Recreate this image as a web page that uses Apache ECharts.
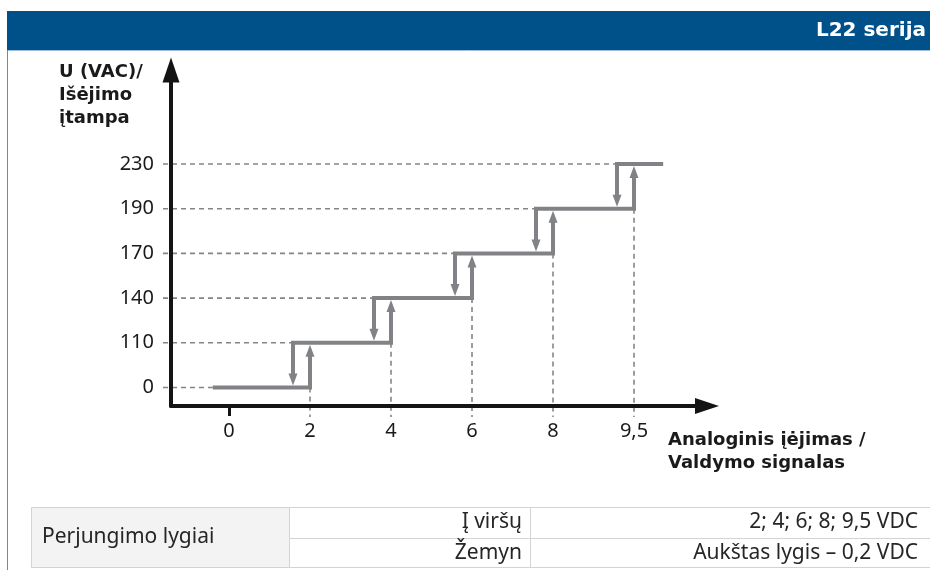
<!DOCTYPE html>
<html>
<head>
<meta charset="utf-8">
<script src="https://cdn.jsdelivr.net/npm/echarts@6/dist/echarts.min.js"></script>
<style>
  html, body { margin: 0; padding: 0; background: #fff; }
  #chart { width: 930px; height: 570px; }
</style>
</head>
<body>
<div id="chart"></div>
<script>
// ---- data ----
const headerTitle = 'L22 serija';
const yAxisTitle = ['U (VAC)/', 'Išėjimo', 'įtampa'];
const xAxisTitle = ['Analoginis įėjimas /', 'Valdymo signalas'];
// tick labels (schematic axes: equally spaced steps)
const xLabels = ['0', '2', '4', '6', '8', '9,5'];          // control signal, VDC
const yLabels = ['0', '110', '140', '170', '190', '230'];   // output voltage, VAC
// switching-up points (as x tick labels)
const switchUp = ['2', '4', '6', '8', '9,5'];
// switching-down offset (0.2 VDC) in tick-step units, and line ends
const downOffset = 0.21;
const lineStart = -0.2;
const lineEnd = 5.36;
// table
const tableHead = 'Perjungimo lygiai';
const tableRowLabels = ['Į viršų', 'Žemyn'];
const tableRowValues = ['2; 4; 6; 8; 9,5 VDC', 'Aukštas lygis – 0,2 VDC'];

// ---- derived step segments: [x0, x1, level] ----
const upPos = switchUp.map(s => xLabels.indexOf(s));
const topLevel = yLabels.length - 1;
const segments = yLabels.map((_, i) => [
  i === 0 ? lineStart : upPos[i - 1] - downOffset,
  i === topLevel ? lineEnd : upPos[i],
  i
]);

// ---- layout / style ----
const grid = { left: 171, right: 223, top: 70, bottom: 164 };
const stepColor = '#808285';
const dashColor = '#858585';
const axisColor = '#141414';
const labelFont = 'Noto Sans';

const chart = echarts.init(document.getElementById('chart'), null, { renderer: 'canvas' });

function renderStep(params, api) {
  const x0 = api.value(0), x1 = api.value(1), lv = api.value(2);
  const pS = api.coord([x0, lv]);
  const pE = api.coord([x1, lv]);
  const axisY = api.coord([0, -0.414])[1];
  const half = 2, aL = 12, aW = 9;
  const children = [];
  const dashStyle = { stroke: dashColor, lineWidth: 1.6, lineDash: [5, 4], fill: null };
  children.push({ type: 'line', shape: { x1: grid.left - 8, y1: pS[1], x2: pS[0], y2: pS[1] }, style: dashStyle, z2: 0 });
  if (lv < topLevel) {
    children.push({ type: 'line', shape: { x1: pE[0], y1: pE[1], x2: pE[0], y2: axisY + 11 }, style: dashStyle, z2: 0 });
  }
  const pts = [];
  if (lv > 0) {
    const tipY = api.coord([x0, lv - 1])[1] - half;
    pts.push([pS[0], tipY - aL + 1]);
    children.push({ type: 'polygon', shape: { points: [[pS[0], tipY], [pS[0] - aW / 2, tipY - aL], [pS[0] + aW / 2, tipY - aL]] }, style: { fill: stepColor }, z2: 3 });
  }
  pts.push(pS, pE);
  if (lv < topLevel) {
    const tipY = api.coord([x1, lv + 1])[1] + half;
    pts.push([pE[0], tipY + aL - 1]);
    children.push({ type: 'polygon', shape: { points: [[pE[0], tipY], [pE[0] - aW / 2, tipY + aL], [pE[0] + aW / 2, tipY + aL]] }, style: { fill: stepColor }, z2: 3 });
  }
  children.push({ type: 'polyline', shape: { points: pts }, style: { stroke: stepColor, lineWidth: 4, fill: null, lineJoin: 'miter', lineCap: 'butt' }, z2: 2 });
  return { type: 'group', children };
}

// table graphics
const tX0 = 31, tX1 = 289, tX2 = 530, tX3 = 930, tY0 = 507, tY1 = 538, tY2 = 568;
const border = { stroke: '#d3d3d3', lineWidth: 1 };
const tableFont = '21px "Noto Sans"';
const tableGraphics = [
  { type: 'rect', shape: { x: tX0 + 0.5, y: tY0 + 0.5, width: tX1 - tX0, height: tY2 - tY0 - 1 }, style: { fill: '#f3f3f3', ...border } },
  { type: 'rect', shape: { x: tX1 + 0.5, y: tY0 + 0.5, width: tX2 - tX1, height: tY1 - tY0 }, style: { fill: '#fff', ...border } },
  { type: 'rect', shape: { x: tX2 + 0.5, y: tY0 + 0.5, width: tX3 - tX2 + 2, height: tY1 - tY0 }, style: { fill: '#fff', ...border } },
  { type: 'rect', shape: { x: tX1 + 0.5, y: tY1 + 0.5, width: tX2 - tX1, height: tY2 - tY1 - 1 }, style: { fill: '#fff', ...border } },
  { type: 'rect', shape: { x: tX2 + 0.5, y: tY1 + 0.5, width: tX3 - tX2 + 2, height: tY2 - tY1 - 1 }, style: { fill: '#fff', ...border } },
  { type: 'text', x: 42, y: (tY0 + tY2) / 2, style: { text: tableHead, font: tableFont, fill: '#262626', textVerticalAlign: 'middle', textAlign: 'left' } }
];
tableRowLabels.forEach((t, i) => {
  const cy = i === 0 ? (tY0 + tY1) / 2 : (tY1 + tY2) / 2;
  tableGraphics.push({ type: 'text', x: tX2 - 8, y: cy, style: { text: t, font: tableFont, fill: '#262626', textAlign: 'right', textVerticalAlign: 'middle' } });
  tableGraphics.push({ type: 'text', x: tX3 - 12, y: cy, style: { text: tableRowValues[i], font: tableFont, fill: '#262626', textAlign: 'right', textVerticalAlign: 'middle' } });
});

const option = {
  animation: false,
  backgroundColor: '#fff',
  grid: grid,
  xAxis: {
    type: 'value', min: -0.716, max: 5.901, z: 5,
    axisLine: { show: true, onZero: false, symbol: ['none', 'triangle'], symbolSize: [16, 24], lineStyle: { color: axisColor, width: 4 } },
    axisTick: { show: true, customValues: [0], length: 10, lineStyle: { color: axisColor, width: 3 } },
    axisLabel: { customValues: [0, 1, 2, 3, 4, 5], formatter: v => xLabels[Math.round(v)], fontSize: 20, color: '#1a1a1a', fontFamily: labelFont, margin: 15 },
    splitLine: { show: false }
  },
  yAxis: {
    type: 'value', min: -0.414, max: 7.103, z: 5,
    axisLine: { show: true, onZero: false, symbol: ['none', 'triangle'], symbolSize: [17, 25], lineStyle: { color: axisColor, width: 4 } },
    axisTick: { show: false },
    axisLabel: { customValues: [0, 1, 2, 3, 4, 5], formatter: v => yLabels[Math.round(v)], fontSize: 20, color: '#1a1a1a', fontFamily: labelFont, margin: 17 },
    splitLine: { show: false }
  },
  series: [{
    type: 'custom',
    coordinateSystem: 'cartesian2d',
    renderItem: renderStep,
    encode: { x: [0, 1], y: 2 },
    data: segments,
    z: 2,
    silent: true
  }],
  graphic: [
    { type: 'rect', shape: { x: 7, y: 11, width: 923, height: 39 }, style: { fill: '#00508a' } },
    { type: 'line', shape: { x1: 7, y1: 50.5, x2: 930, y2: 50.5 }, style: { stroke: '#9ebfdc', lineWidth: 1 } },
    { type: 'line', shape: { x1: 7.5, y1: 50, x2: 7.5, y2: 570 }, style: { stroke: '#5b8fc0', lineWidth: 1 } },
    { type: 'text', x: 926, y: 31, style: { text: headerTitle, font: 'bold 20px "DejaVu Sans"', fill: '#fff', textAlign: 'right', textVerticalAlign: 'middle' } },
    { type: 'text', x: 59, y: 61, style: { text: yAxisTitle.join('\n'), font: 'bold 18px "DejaVu Sans"', lineHeight: 23, fill: '#1a1a1a', textAlign: 'left', textVerticalAlign: 'top' } },
    { type: 'text', x: 668, y: 429, style: { text: xAxisTitle.join('\n'), font: 'bold 18px "DejaVu Sans"', lineHeight: 23, fill: '#1a1a1a', textAlign: 'left', textVerticalAlign: 'top' } },
    ...tableGraphics
  ]
};
chart.setOption(option);
</script>
</body>
</html>
